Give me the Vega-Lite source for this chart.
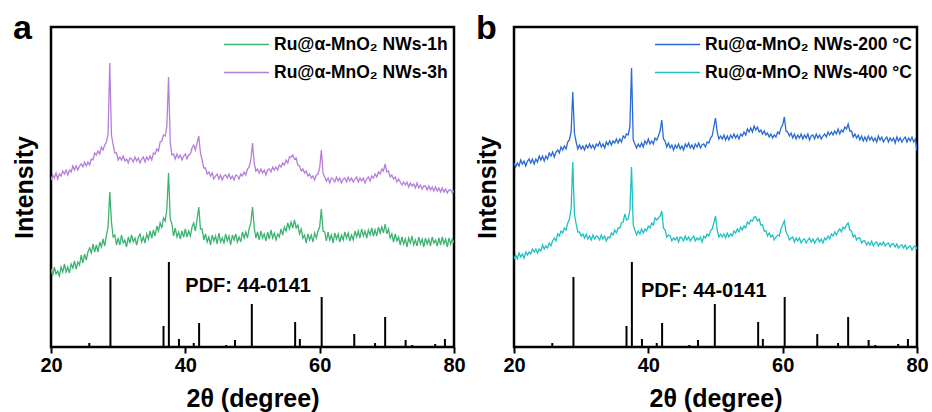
{
"$schema":"https://vega.github.io/schema/vega-lite/v6.json",
"padding":{"left":10,"top":10,"right":2,"bottom":2},
"config":{
 "font":"Liberation Sans",
 "view":{"stroke":"#000","strokeWidth":2.5},
 "axisX":{"labelFontSize":20,"labelFontWeight":"bold","labelColor":"#000","tickColor":"#000","tickSize":6,"tickWidth":2,"domain":false,"grid":false,"labelPadding":2,"labelFlush":false,"titleFontSize":25,"titleFontWeight":"bold","titleColor":"#000","titlePadding":11},
 "axisY":{"labels":false,"ticks":false,"domain":false,"grid":false,"titleFontSize":25,"titleFontWeight":"bold","titleColor":"#000","titlePadding":14},
 "legend":{"orient":"none","symbolType":"stroke","symbolSize":2025,"symbolStrokeWidth":1.3,"labelFontSize":17.5,"labelFontWeight":"bold","labelColor":"#000","labelOffset":4,"clipHeight":25,"rowPadding":3,"padding":0,"labelLimit":400},
 "title":{"fontSize":34,"fontWeight":"bold","anchor":"start","frame":"group","offset":0,"baseline":"alphabetic","dx":-38,"dy":23,"color":"#000"}
},
"datasets":{
"sticks":[{"x":25.7,"h":4},{"x":28.85,"h":70},{"x":36.75,"h":21},{"x":37.55,"h":85},{"x":39.05,"h":8},{"x":41.25,"h":4},{"x":42.05,"h":24},{"x":46.1,"h":2},{"x":47.4,"h":7},{"x":49.9,"h":43},{"x":56.35,"h":25},{"x":57.05,"h":8},{"x":60.3,"h":50},{"x":65.15,"h":13},{"x":68.25,"h":4},{"x":69.75,"h":30},{"x":72.8,"h":7},{"x":73.8,"h":2},{"x":77.2,"h":3},{"x":78.65,"h":8}],
"xrd":[
{"x":20,"a1":78,"a3":167,"b2":184,"b4":88},
{"x":20.25,"a1":71,"a3":172,"b2":180,"b4":92},
{"x":20.5,"a1":80,"a3":169,"b2":184,"b4":88},
{"x":20.75,"a1":73,"a3":174,"b2":181,"b4":94},
{"x":21,"a1":76,"a3":168,"b2":187,"b4":90},
{"x":21.25,"a1":71,"a3":173,"b2":183,"b4":93},
{"x":21.5,"a1":80,"a3":171,"b2":186,"b4":89},
{"x":21.75,"a1":75,"a3":176,"b2":181,"b4":95},
{"x":22,"a1":83,"a3":173,"b2":186,"b4":92},
{"x":22.25,"a1":75,"a3":177,"b2":188,"b4":95},
{"x":22.5,"a1":80,"a3":172,"b2":184,"b4":93},
{"x":22.75,"a1":74,"a3":177,"b2":188,"b4":98},
{"x":23,"a1":83,"a3":175,"b2":183,"b4":95},
{"x":23.25,"a1":79,"a3":181,"b2":188,"b4":98},
{"x":23.5,"a1":86,"a3":177,"b2":185,"b4":94},
{"x":23.75,"a1":78,"a3":181,"b2":191,"b4":98},
{"x":24,"a1":85,"a3":177,"b2":187,"b4":96},
{"x":24.25,"a1":82,"a3":181,"b2":191,"b4":102},
{"x":24.5,"a1":92,"a3":183,"b2":186,"b4":98},
{"x":24.75,"a1":84,"a3":180,"b2":191,"b4":101},
{"x":25,"a1":93,"a3":185,"b2":188,"b4":99},
{"x":25.25,"a1":87,"a3":181,"b2":194,"b4":104},
{"x":25.5,"a1":95,"a3":185,"b2":191,"b4":101},
{"x":25.75,"a1":99,"a3":182,"b2":195,"b4":106},
{"x":26,"a1":94,"a3":188,"b2":190,"b4":109},
{"x":26.25,"a1":103,"a3":187,"b2":195,"b4":106},
{"x":26.5,"a1":95,"a3":194,"b2":197,"b4":113},
{"x":26.75,"a1":102,"a3":192,"b2":194,"b4":111},
{"x":27,"a1":95,"a3":196,"b2":200,"b4":116},
{"x":27.25,"a1":105,"a3":193,"b2":197,"b4":114},
{"x":27.5,"a1":100,"a3":200,"b2":201,"b4":119},
{"x":27.75,"a1":108,"a3":197,"b2":198,"b4":117},
{"x":28,"a1":101,"a3":202,"b2":205,"b4":124},
{"x":28.25,"a1":112,"a3":205,"b2":207,"b4":128},
{"x":28.5,"a1":120,"a3":213,"b2":215,"b4":138},
{"x":28.75,"a1":155,"a3":284,"b2":255,"b4":185},
{"x":29,"a1":125,"a3":212,"b2":214,"b4":133},
{"x":29.25,"a1":110,"a3":202,"b2":205,"b4":123},
{"x":29.5,"a1":112,"a3":194,"b2":198,"b4":115},
{"x":29.75,"a1":102,"a3":194,"b2":202,"b4":115},
{"x":30,"a1":109,"a3":187,"b2":198,"b4":111},
{"x":30.25,"a1":102,"a3":190,"b2":201,"b4":113},
{"x":30.5,"a1":112,"a3":187,"b2":197,"b4":109},
{"x":30.75,"a1":104,"a3":191,"b2":202,"b4":113},
{"x":31,"a1":107,"a3":186,"b2":199,"b4":108},
{"x":31.25,"a1":100,"a3":188,"b2":203,"b4":111},
{"x":31.5,"a1":110,"a3":184,"b2":199,"b4":107},
{"x":31.75,"a1":104,"a3":189,"b2":202,"b4":112},
{"x":32,"a1":112,"a3":188,"b2":198,"b4":108},
{"x":32.25,"a1":105,"a3":185,"b2":203,"b4":111},
{"x":32.5,"a1":109,"a3":190,"b2":201,"b4":110},
{"x":32.75,"a1":102,"a3":186,"b2":205,"b4":107},
{"x":33,"a1":110,"a3":189,"b2":200,"b4":112},
{"x":33.25,"a1":113,"a3":184,"b2":203,"b4":108},
{"x":33.5,"a1":105,"a3":188,"b2":199,"b4":111},
{"x":33.75,"a1":110,"a3":190,"b2":205,"b4":106},
{"x":34,"a1":104,"a3":185,"b2":202,"b4":110},
{"x":34.25,"a1":113,"a3":190,"b2":206,"b4":109},
{"x":34.5,"a1":108,"a3":187,"b2":202,"b4":114},
{"x":34.75,"a1":116,"a3":191,"b2":206,"b4":112},
{"x":35,"a1":109,"a3":187,"b2":204,"b4":117},
{"x":35.25,"a1":117,"a3":194,"b2":208,"b4":114},
{"x":35.5,"a1":111,"a3":193,"b2":204,"b4":119},
{"x":35.75,"a1":121,"a3":198,"b2":208,"b4":119},
{"x":36,"a1":116,"a3":196,"b2":205,"b4":124},
{"x":36.25,"a1":124,"a3":205,"b2":211,"b4":125},
{"x":36.5,"a1":119,"a3":206,"b2":209,"b4":133},
{"x":36.75,"a1":129,"a3":212,"b2":213,"b4":127},
{"x":37,"a1":126,"a3":211,"b2":212,"b4":128},
{"x":37.25,"a1":138,"a3":221,"b2":220,"b4":137},
{"x":37.5,"a1":174,"a3":270,"b2":279,"b4":180},
{"x":37.75,"a1":128,"a3":205,"b2":207,"b4":122},
{"x":38,"a1":123,"a3":192,"b2":203,"b4":117},
{"x":38.25,"a1":111,"a3":193,"b2":199,"b4":112},
{"x":38.5,"a1":119,"a3":188,"b2":203,"b4":116},
{"x":38.75,"a1":110,"a3":193,"b2":200,"b4":113},
{"x":39,"a1":115,"a3":189,"b2":204,"b4":118},
{"x":39.25,"a1":108,"a3":192,"b2":200,"b4":114},
{"x":39.5,"a1":116,"a3":187,"b2":206,"b4":118},
{"x":39.75,"a1":110,"a3":191,"b2":203,"b4":116},
{"x":40,"a1":118,"a3":193,"b2":208,"b4":121},
{"x":40.25,"a1":110,"a3":188,"b2":203,"b4":119},
{"x":40.5,"a1":116,"a3":192,"b2":206,"b4":124},
{"x":40.75,"a1":111,"a3":193,"b2":203,"b4":122},
{"x":41,"a1":120,"a3":199,"b2":209,"b4":129},
{"x":41.25,"a1":124,"a3":202,"b2":207,"b4":127},
{"x":41.5,"a1":116,"a3":197,"b2":211,"b4":129},
{"x":41.75,"a1":128,"a3":204,"b2":216,"b4":131},
{"x":42,"a1":140,"a3":211,"b2":227,"b4":136},
{"x":42.25,"a1":118,"a3":194,"b2":208,"b4":119},
{"x":42.5,"a1":118,"a3":187,"b2":206,"b4":117},
{"x":42.75,"a1":107,"a3":179,"b2":200,"b4":110},
{"x":43,"a1":113,"a3":179,"b2":204,"b4":112},
{"x":43.25,"a1":105,"a3":173,"b2":199,"b4":111},
{"x":43.5,"a1":110,"a3":175,"b2":202,"b4":106},
{"x":43.75,"a1":102,"a3":171,"b2":197,"b4":109},
{"x":44,"a1":112,"a3":174,"b2":202,"b4":107},
{"x":44.25,"a1":106,"a3":168,"b2":199,"b4":110},
{"x":44.5,"a1":111,"a3":171,"b2":203,"b4":105},
{"x":44.75,"a1":103,"a3":173,"b2":198,"b4":110},
{"x":45,"a1":114,"a3":168,"b2":201,"b4":109},
{"x":45.25,"a1":105,"a3":172,"b2":197,"b4":106},
{"x":45.5,"a1":109,"a3":167,"b2":203,"b4":111},
{"x":45.75,"a1":104,"a3":171,"b2":200,"b4":107},
{"x":46,"a1":113,"a3":172,"b2":204,"b4":110},
{"x":46.25,"a1":106,"a3":169,"b2":199,"b4":106},
{"x":46.5,"a1":111,"a3":173,"b2":202,"b4":109},
{"x":46.75,"a1":102,"a3":168,"b2":198,"b4":111},
{"x":47,"a1":112,"a3":171,"b2":203,"b4":106},
{"x":47.25,"a1":107,"a3":167,"b2":200,"b4":109},
{"x":47.5,"a1":113,"a3":172,"b2":204,"b4":107},
{"x":47.75,"a1":105,"a3":171,"b2":199,"b4":110},
{"x":48,"a1":110,"a3":168,"b2":202,"b4":105},
{"x":48.25,"a1":105,"a3":173,"b2":203,"b4":111},
{"x":48.5,"a1":115,"a3":171,"b2":200,"b4":109},
{"x":48.75,"a1":109,"a3":175,"b2":205,"b4":113},
{"x":49,"a1":115,"a3":172,"b2":204,"b4":111},
{"x":49.25,"a1":109,"a3":178,"b2":209,"b4":116},
{"x":49.5,"a1":118,"a3":180,"b2":211,"b4":118},
{"x":49.75,"a1":124,"a3":187,"b2":220,"b4":124},
{"x":50,"a1":140,"a3":204,"b2":229,"b4":131},
{"x":50.25,"a1":120,"a3":184,"b2":215,"b4":117},
{"x":50.5,"a1":109,"a3":176,"b2":208,"b4":110},
{"x":50.75,"a1":115,"a3":178,"b2":211,"b4":113},
{"x":51,"a1":107,"a3":174,"b2":208,"b4":110},
{"x":51.25,"a1":116,"a3":178,"b2":212,"b4":113},
{"x":51.5,"a1":109,"a3":174,"b2":207,"b4":109},
{"x":51.75,"a1":113,"a3":177,"b2":211,"b4":114},
{"x":52,"a1":106,"a3":172,"b2":207,"b4":110},
{"x":52.25,"a1":115,"a3":177,"b2":212,"b4":113},
{"x":52.5,"a1":108,"a3":178,"b2":209,"b4":111},
{"x":52.75,"a1":117,"a3":175,"b2":213,"b4":116},
{"x":53,"a1":109,"a3":180,"b2":209,"b4":114},
{"x":53.25,"a1":114,"a3":177,"b2":212,"b4":118},
{"x":53.5,"a1":107,"a3":180,"b2":208,"b4":115},
{"x":53.75,"a1":113,"a3":177,"b2":213,"b4":120},
{"x":54,"a1":110,"a3":182,"b2":211,"b4":117},
{"x":54.25,"a1":118,"a3":180,"b2":215,"b4":121},
{"x":54.5,"a1":112,"a3":184,"b2":212,"b4":119},
{"x":54.75,"a1":120,"a3":182,"b2":218,"b4":125},
{"x":55,"a1":116,"a3":187,"b2":215,"b4":123},
{"x":55.25,"a1":124,"a3":184,"b2":219,"b4":127},
{"x":55.5,"a1":118,"a3":190,"b2":215,"b4":126},
{"x":55.75,"a1":125,"a3":190,"b2":221,"b4":130},
{"x":56,"a1":119,"a3":192,"b2":217,"b4":130},
{"x":56.25,"a1":127,"a3":188,"b2":220,"b4":126},
{"x":56.5,"a1":119,"a3":189,"b2":215,"b4":128},
{"x":56.75,"a1":122,"a3":182,"b2":217,"b4":122},
{"x":57,"a1":113,"a3":181,"b2":213,"b4":122},
{"x":57.25,"a1":118,"a3":176,"b2":216,"b4":116},
{"x":57.5,"a1":109,"a3":178,"b2":212,"b4":116},
{"x":57.75,"a1":112,"a3":174,"b2":214,"b4":111},
{"x":58,"a1":104,"a3":176,"b2":210,"b4":114},
{"x":58.25,"a1":113,"a3":171,"b2":213,"b4":110},
{"x":58.5,"a1":107,"a3":173,"b2":209,"b4":112},
{"x":58.75,"a1":112,"a3":169,"b2":212,"b4":107},
{"x":59,"a1":105,"a3":171,"b2":210,"b4":110},
{"x":59.25,"a1":114,"a3":167,"b2":215,"b4":112},
{"x":59.5,"a1":109,"a3":172,"b2":213,"b4":111},
{"x":59.75,"a1":116,"a3":173,"b2":219,"b4":118},
{"x":60,"a1":120,"a3":179,"b2":222,"b4":122},
{"x":60.25,"a1":138,"a3":197,"b2":230,"b4":126},
{"x":60.5,"a1":116,"a3":174,"b2":216,"b4":115},
{"x":60.75,"a1":115,"a3":170,"b2":215,"b4":112},
{"x":61,"a1":106,"a3":166,"b2":211,"b4":107},
{"x":61.25,"a1":115,"a3":169,"b2":214,"b4":109},
{"x":61.5,"a1":107,"a3":164,"b2":209,"b4":110},
{"x":61.75,"a1":112,"a3":169,"b2":213,"b4":105},
{"x":62,"a1":104,"a3":168,"b2":208,"b4":109},
{"x":62.25,"a1":114,"a3":165,"b2":212,"b4":106},
{"x":62.5,"a1":108,"a3":170,"b2":209,"b4":109},
{"x":62.75,"a1":113,"a3":166,"b2":213,"b4":104},
{"x":63,"a1":105,"a3":169,"b2":208,"b4":107},
{"x":63.25,"a1":112,"a3":164,"b2":212,"b4":108},
{"x":63.5,"a1":107,"a3":168,"b2":209,"b4":104},
{"x":63.75,"a1":115,"a3":169,"b2":213,"b4":107},
{"x":64,"a1":109,"a3":165,"b2":207,"b4":109},
{"x":64.25,"a1":114,"a3":170,"b2":211,"b4":105},
{"x":64.5,"a1":106,"a3":166,"b2":212,"b4":108},
{"x":64.75,"a1":112,"a3":169,"b2":208,"b4":104},
{"x":65,"a1":107,"a3":165,"b2":213,"b4":107},
{"x":65.25,"a1":116,"a3":168,"b2":209,"b4":109},
{"x":65.5,"a1":110,"a3":170,"b2":212,"b4":105},
{"x":65.75,"a1":116,"a3":165,"b2":208,"b4":108},
{"x":66,"a1":109,"a3":169,"b2":211,"b4":104},
{"x":66.25,"a1":118,"a3":166,"b2":213,"b4":109},
{"x":66.5,"a1":111,"a3":169,"b2":210,"b4":107},
{"x":66.75,"a1":116,"a3":164,"b2":215,"b4":111},
{"x":67,"a1":109,"a3":168,"b2":212,"b4":108},
{"x":67.25,"a1":117,"a3":170,"b2":215,"b4":113},
{"x":67.5,"a1":112,"a3":166,"b2":212,"b4":111},
{"x":67.75,"a1":119,"a3":171,"b2":216,"b4":115},
{"x":68,"a1":111,"a3":169,"b2":213,"b4":112},
{"x":68.25,"a1":117,"a3":173,"b2":218,"b4":116},
{"x":68.5,"a1":111,"a3":170,"b2":213,"b4":118},
{"x":68.75,"a1":120,"a3":175,"b2":217,"b4":115},
{"x":69,"a1":114,"a3":173,"b2":215,"b4":120},
{"x":69.25,"a1":120,"a3":178,"b2":220,"b4":118},
{"x":69.5,"a1":114,"a3":176,"b2":218,"b4":122},
{"x":69.75,"a1":123,"a3":183,"b2":223,"b4":124},
{"x":70,"a1":113,"a3":175,"b2":216,"b4":117},
{"x":70.25,"a1":118,"a3":176,"b2":216,"b4":116},
{"x":70.5,"a1":109,"a3":170,"b2":210,"b4":110},
{"x":70.75,"a1":113,"a3":172,"b2":213,"b4":112},
{"x":71,"a1":105,"a3":168,"b2":209,"b4":107},
{"x":71.25,"a1":113,"a3":170,"b2":212,"b4":109},
{"x":71.5,"a1":106,"a3":165,"b2":207,"b4":109},
{"x":71.75,"a1":110,"a3":168,"b2":211,"b4":104},
{"x":72,"a1":102,"a3":165,"b2":206,"b4":106},
{"x":72.25,"a1":110,"a3":162,"b2":210,"b4":106},
{"x":72.5,"a1":103,"a3":165,"b2":206,"b4":102},
{"x":72.75,"a1":108,"a3":162,"b2":211,"b4":105},
{"x":73,"a1":100,"a3":165,"b2":207,"b4":102},
{"x":73.25,"a1":109,"a3":160,"b2":210,"b4":106},
{"x":73.5,"a1":104,"a3":164,"b2":206,"b4":101},
{"x":73.75,"a1":111,"a3":161,"b2":209,"b4":104},
{"x":74,"a1":102,"a3":163,"b2":205,"b4":105},
{"x":74.25,"a1":107,"a3":159,"b2":211,"b4":101},
{"x":74.5,"a1":101,"a3":164,"b2":207,"b4":104},
{"x":74.75,"a1":110,"a3":159,"b2":210,"b4":102},
{"x":75,"a1":103,"a3":162,"b2":205,"b4":105},
{"x":75.25,"a1":108,"a3":158,"b2":208,"b4":101},
{"x":75.5,"a1":100,"a3":161,"b2":210,"b4":103},
{"x":75.75,"a1":109,"a3":161,"b2":205,"b4":104},
{"x":76,"a1":103,"a3":157,"b2":209,"b4":100},
{"x":76.25,"a1":108,"a3":161,"b2":206,"b4":103},
{"x":76.5,"a1":101,"a3":157,"b2":209,"b4":103},
{"x":76.75,"a1":110,"a3":160,"b2":204,"b4":100},
{"x":77,"a1":104,"a3":156,"b2":210,"b4":103},
{"x":77.25,"a1":107,"a3":160,"b2":206,"b4":99},
{"x":77.5,"a1":101,"a3":156,"b2":209,"b4":101},
{"x":77.75,"a1":109,"a3":159,"b2":205,"b4":102},
{"x":78,"a1":102,"a3":155,"b2":208,"b4":99},
{"x":78.25,"a1":110,"a3":159,"b2":210,"b4":102},
{"x":78.5,"a1":103,"a3":155,"b2":205,"b4":98},
{"x":78.75,"a1":108,"a3":158,"b2":209,"b4":100},
{"x":79,"a1":100,"a3":154,"b2":206,"b4":101},
{"x":79.25,"a1":109,"a3":157,"b2":210,"b4":97},
{"x":79.5,"a1":103,"a3":157,"b2":205,"b4":100},
{"x":79.75,"a1":108,"a3":154,"b2":208,"b4":101},
{"x":80,"a1":104,"a3":156,"b2":196,"b4":98}
]},
"resolve":{"scale":{"color":"independent"},"legend":{"color":"independent"}},
"spacing":6,
"hconcat":[
{"width":403,"height":320,"title":{"text":"a"},
 "layer":[
  {"data":{"name":"xrd"},"transform":[{"fold":["a1","a3"],"as":["s","v"]}],
   "mark":{"type":"line","strokeWidth":1.3,"clip":true},
   "encoding":{
    "x":{"field":"x","type":"quantitative","scale":{"domain":[20,80],"nice":false},"title":"2θ (degree)","axis":{"values":[20,40,60,80]}},
    "y":{"field":"v","type":"quantitative","scale":{"domain":[0,320],"nice":false},"title":"Intensity"},
    "color":{"field":"s","type":"nominal","scale":{"domain":["a1","a3"],"range":["#3cb371","#b57edc"]},"legend":{"title":null,"legendX":172,"legendY":5,"labelExpr":"datum.label == 'a1' ? 'Ru@α-MnO₂ NWs-1h' : 'Ru@α-MnO₂ NWs-3h'"}}}},
  {"data":{"name":"sticks"},"mark":{"type":"rule","color":"#000","strokeWidth":2},
   "encoding":{"x":{"field":"x","type":"quantitative"},"y":{"field":"h","type":"quantitative"},"y2":{"datum":0}}},
  {"data":{"values":[{"x":40,"y":61,"t":"PDF: 44-0141"}]},"mark":{"type":"text","align":"left","baseline":"middle","fontSize":20,"fontWeight":"bold","color":"#000"},
   "encoding":{"x":{"field":"x","type":"quantitative"},"y":{"field":"y","type":"quantitative"},"text":{"field":"t"}}}
 ]},
{"width":403,"height":320,"title":{"text":"b"},
 "layer":[
  {"data":{"name":"xrd"},"transform":[{"fold":["b2","b4"],"as":["s","v"]}],
   "mark":{"type":"line","strokeWidth":1.3,"clip":true},
   "encoding":{
    "x":{"field":"x","type":"quantitative","scale":{"domain":[20,80],"nice":false},"title":"2θ (degree)","axis":{"values":[20,40,60,80]}},
    "y":{"field":"v","type":"quantitative","scale":{"domain":[0,320],"nice":false},"title":"Intensity"},
    "color":{"field":"s","type":"nominal","scale":{"domain":["b2","b4"],"range":["#2a6ad6","#20c0c4"]},"legend":{"title":null,"legendX":140,"legendY":5,"labelExpr":"datum.label == 'b2' ? 'Ru@α-MnO₂ NWs-200 °C' : 'Ru@α-MnO₂ NWs-400 °C'"}}}},
  {"data":{"name":"sticks"},"mark":{"type":"rule","color":"#000","strokeWidth":2},
   "encoding":{"x":{"field":"x","type":"quantitative"},"y":{"field":"h","type":"quantitative"},"y2":{"datum":0}}},
  {"data":{"values":[{"x":38.9,"y":56,"t":"PDF: 44-0141"}]},"mark":{"type":"text","align":"left","baseline":"middle","fontSize":20,"fontWeight":"bold","color":"#000"},
   "encoding":{"x":{"field":"x","type":"quantitative"},"y":{"field":"y","type":"quantitative"},"text":{"field":"t"}}}
 ]}
]
}
